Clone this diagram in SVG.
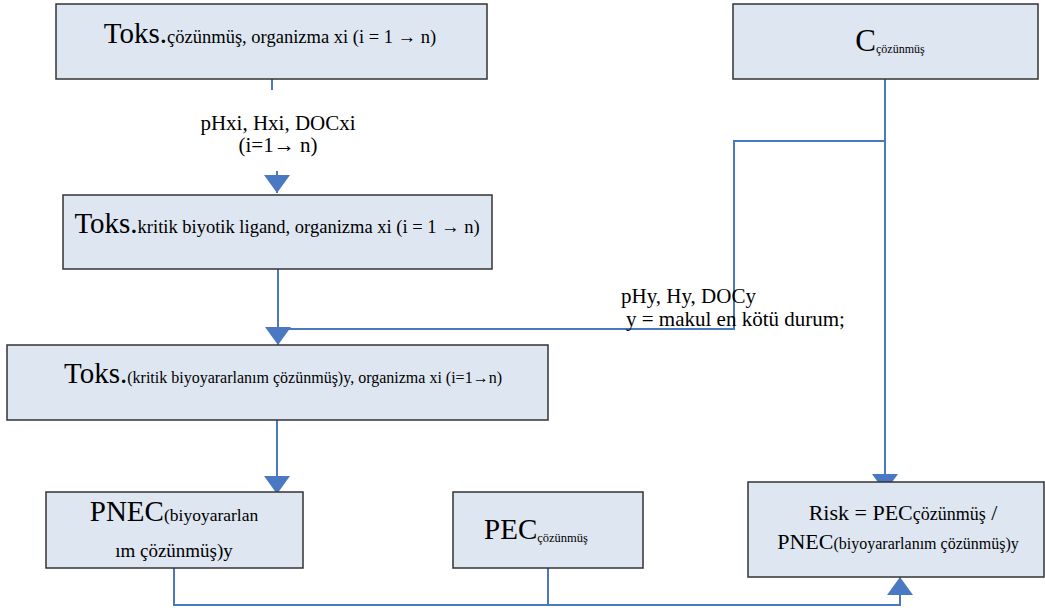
<svg xmlns="http://www.w3.org/2000/svg" width="1045" height="610" viewBox="0 0 1045 610">
<style>
.box{fill:#dee6f1;stroke:#333;stroke-width:1.5}
.t{font-family:"Liberation Serif","Times New Roman",serif;fill:#000}
.big{font-size:29px}
.con{fill:none;stroke:#4a78c2;stroke-width:2}
</style>
<defs>
<marker id="ah" markerUnits="userSpaceOnUse" viewBox="0 0 18 26" refX="18" refY="13" markerWidth="18" markerHeight="26" orient="auto">
<path d="M0 0 L18 13 L0 26 Z" fill="#4a78c2"/>
</marker>
</defs>
<rect width="1045" height="610" fill="#fff"/>
<g id="connectors">
<path class="con" d="M272 79 V90"/>
<path class="con" d="M277 171 V193" marker-end="url(#ah)"/>
<path class="con" d="M278 269 V345" marker-end="url(#ah)"/>
<path class="con" d="M885 141 H734 V329 H278"/>
<path class="con" d="M885 79 V492" marker-end="url(#ah)"/>
<path class="con" d="M277 420 V494" marker-end="url(#ah)"/>
<path class="con" d="M174 568 V605 H900 V577" marker-end="url(#ah)"/>
<path class="con" d="M548 568 V605"/>
</g>
<g id="label1">
<text class="t" x="278" y="130" font-size="21" text-anchor="middle">pHxi, Hxi, DOCxi</text>
<text class="t" x="278" y="152" font-size="21" text-anchor="middle">(i=1→ n)</text>
</g>
<g id="label2">
<text class="t" x="621" y="303" font-size="21">pHy, Hy, DOCy</text>
<text class="t" x="626" y="326" font-size="21">y = makul en kötü durum;</text>
</g>
<g id="node-toks1">
<rect class="box" x="56" y="4" width="431" height="75"/>
<text class="t" x="270" y="43" text-anchor="middle"><tspan class="big">Toks.</tspan><tspan font-size="18.5">çözünmüş, organizma xi (i = 1 → n)</tspan></text>
</g>
<g id="node-c">
<rect class="box" x="733" y="4" width="305" height="75"/>
<text class="t" x="890" y="51" text-anchor="middle"><tspan font-size="31">C</tspan><tspan font-size="12" dy="2">çözünmüş</tspan></text>
</g>
<g id="node-toks2">
<rect class="box" x="63" y="195" width="429" height="74"/>
<text class="t" x="277" y="233" text-anchor="middle"><tspan class="big">Toks.</tspan><tspan font-size="18.5">kritik biyotik ligand, organizma xi (i = 1 → n)</tspan></text>
</g>
<g id="node-toks3">
<rect class="box" x="7" y="345" width="541" height="75"/>
<text class="t" x="283" y="383" text-anchor="middle"><tspan class="big">Toks.</tspan><tspan font-size="16">(kritik biyoyararlanım çözünmüş)y</tspan><tspan font-size="16">,  organizma xi (i=1→n)</tspan></text>
</g>
<g id="node-pnec">
<rect class="box" x="46" y="492" width="257" height="76"/>
<text class="t" x="174" y="521" text-anchor="middle"><tspan class="big">PNEC</tspan><tspan font-size="17.5">(biyoyararlan</tspan></text>
<text class="t" x="174" y="557" font-size="19" text-anchor="middle">ım çözünmüş)y</text>
</g>
<g id="node-pec">
<rect class="box" x="453" y="492" width="190" height="76"/>
<text class="t" x="536" y="539" text-anchor="middle"><tspan font-size="29">PEC</tspan><tspan font-size="12.5" dy="3">çözünmüş</tspan></text>
</g>
<g id="node-risk">
<rect class="box" x="748" y="482" width="296" height="95"/>
<text class="t" x="903" y="520" text-anchor="middle"><tspan font-size="22">Risk = PEC</tspan><tspan font-size="18">çözünmüş</tspan><tspan font-size="22"> /</tspan></text>
<text class="t" x="898" y="549" text-anchor="middle"><tspan font-size="22">PNEC</tspan><tspan font-size="16">(biyoyararlanım çözünmüş)y</tspan></text>
</g>
</svg>
